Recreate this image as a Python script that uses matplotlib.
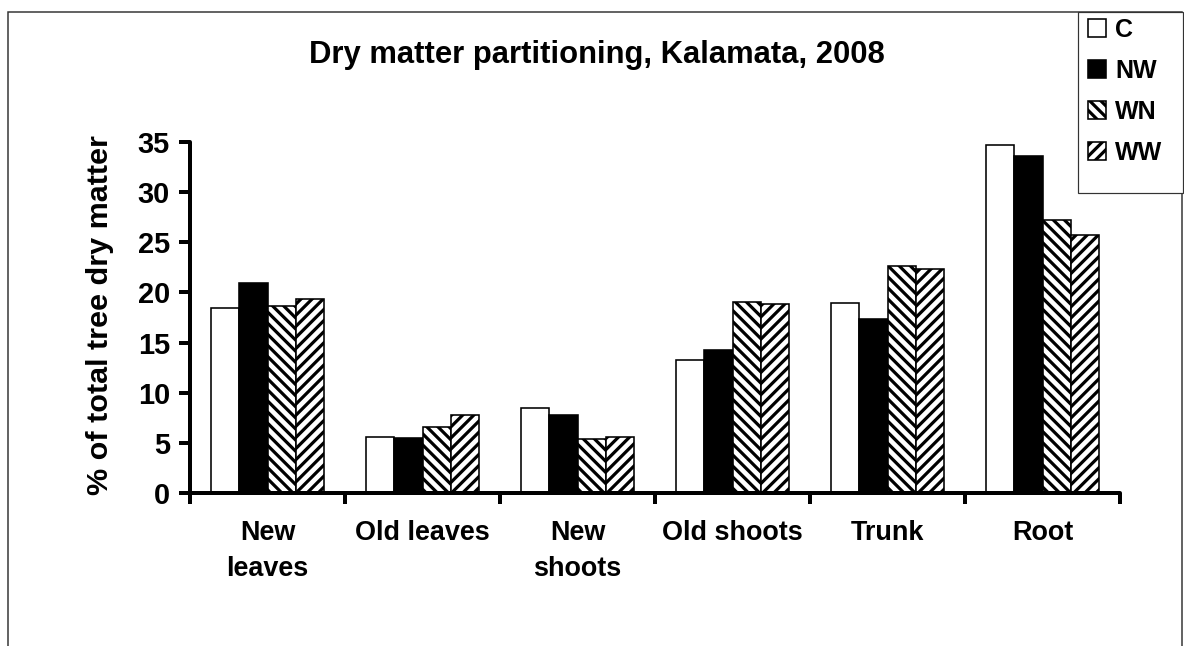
import matplotlib
matplotlib.use("Agg")
import matplotlib.pyplot as plt
from matplotlib.patches import Patch, Rectangle
import numpy as np

categories = ["New\nleaves", "Old leaves", "New\nshoots", "Old shoots", "Trunk", "Root"]
series_names = ["C", "NW", "WN", "WW"]
C_vals = [18.4, 5.6, 8.45, 13.25, 18.9, 34.7]
NW_vals = [20.9, 5.45, 7.8, 14.3, 17.35, 33.6]
WN_vals = [18.6, 6.55, 5.4, 19.05, 22.6, 27.2]
WW_vals = [19.3, 7.75, 5.6, 18.8, 22.3, 25.75]
y_ticks = [0, 5, 10, 15, 20, 25, 30, 35]
title = "Dry matter partitioning, Kalamata, 2008"
ylabel = "% of total tree dry matter"

DPI = 100
W, H = 1184, 646
P = 72.0 / DPI  # pixels -> points


def pt(px):
    return px * P


plt.rcParams['font.family'] = ['Liberation Sans', 'DejaVu Sans']
plt.rcParams['font.weight'] = 'bold'
plt.rcParams['hatch.linewidth'] = pt(3.2)

fig = plt.figure(figsize=(W / DPI, H / DPI), dpi=DPI)
ax = fig.add_axes([190 / W, 1 - 493 / H, (1120 - 190) / W, (493 - 142) / H])

styles = [
    dict(facecolor="white", hatch=None),
    dict(facecolor="black", hatch=None),
    dict(facecolor="white", hatch="\\\\\\"),
    dict(facecolor="white", hatch="///"),
]
data = [C_vals, NW_vals, WN_vals, WW_vals]
n = len(categories)
centers = np.arange(n) + 0.5
bw = 0.182
for i, (vals, st) in enumerate(zip(data, styles)):
    ax.bar(centers + (i - 1.5) * bw, vals, width=bw, facecolor=st["facecolor"],
           hatch=st["hatch"], edgecolor="black", linewidth=pt(1.6), zorder=2)

ax.set_xlim(0, n)
ax.set_ylim(0, 35)
ax.set_yticks(y_ticks)
ax.set_yticklabels([str(t) for t in y_ticks], fontsize=pt(29), fontweight='bold')
ax.set_xticks(np.arange(n + 1))
ax.set_xticklabels([])
ax.set_xticks(centers, minor=True)
ax.set_xticklabels(categories, minor=True, fontsize=pt(27), fontweight='bold',
                   linespacing=1.5)
ax.tick_params(axis='x', which='minor', length=0, pad=pt(27))
ax.tick_params(axis='x', which='major', direction='out', length=pt(11), width=pt(4))
ax.tick_params(axis='y', direction='out', length=pt(11), width=pt(4), pad=pt(9))
for s in ["top", "right"]:
    ax.spines[s].set_visible(False)
for s in ["left", "bottom"]:
    ax.spines[s].set_linewidth(pt(4))
    ax.spines[s].set_capstyle('round')

fig.text(100 / W, 1 - 315 / H, ylabel, rotation=90, ha='center', va='center',
         fontsize=pt(30.5), fontweight='bold')
fig.text(596.5 / W, 1 - 63 / H, title, ha='center', va='baseline',
         fontsize=pt(31), fontweight='bold')

# outer frame
fig.patches.append(Rectangle((8 / W, -0.05), (1182 - 8) / W, 1.05 - 12 / H,
                             transform=fig.transFigure, fill=False,
                             edgecolor="#333333", linewidth=pt(1.5)))
# legend frame
fig.patches.append(Rectangle((1078 / W, 1 - 193 / H), (1183 - 1078) / W, (193 - 12) / H,
                             transform=fig.transFigure, fill=True, facecolor="white",
                             edgecolor="#333333", linewidth=pt(1.2), zorder=3))

handles = [Patch(facecolor=st["facecolor"], hatch=st["hatch"], edgecolor="black",
                 linewidth=pt(1.6)) for st in styles]
leg = fig.legend(handles, series_names, loc='upper left',
                 bbox_to_anchor=(1088 / W, 1 - 18 / H), fontsize=pt(25),
                 frameon=False, handlelength=0.72, handleheight=0.72,
                 handletextpad=0.36, labelspacing=0.68, borderpad=0, borderaxespad=0)
leg.set_zorder(4)
for t in leg.get_texts():
    t.set_fontweight('bold')

fig.savefig("out.png", dpi=DPI)
